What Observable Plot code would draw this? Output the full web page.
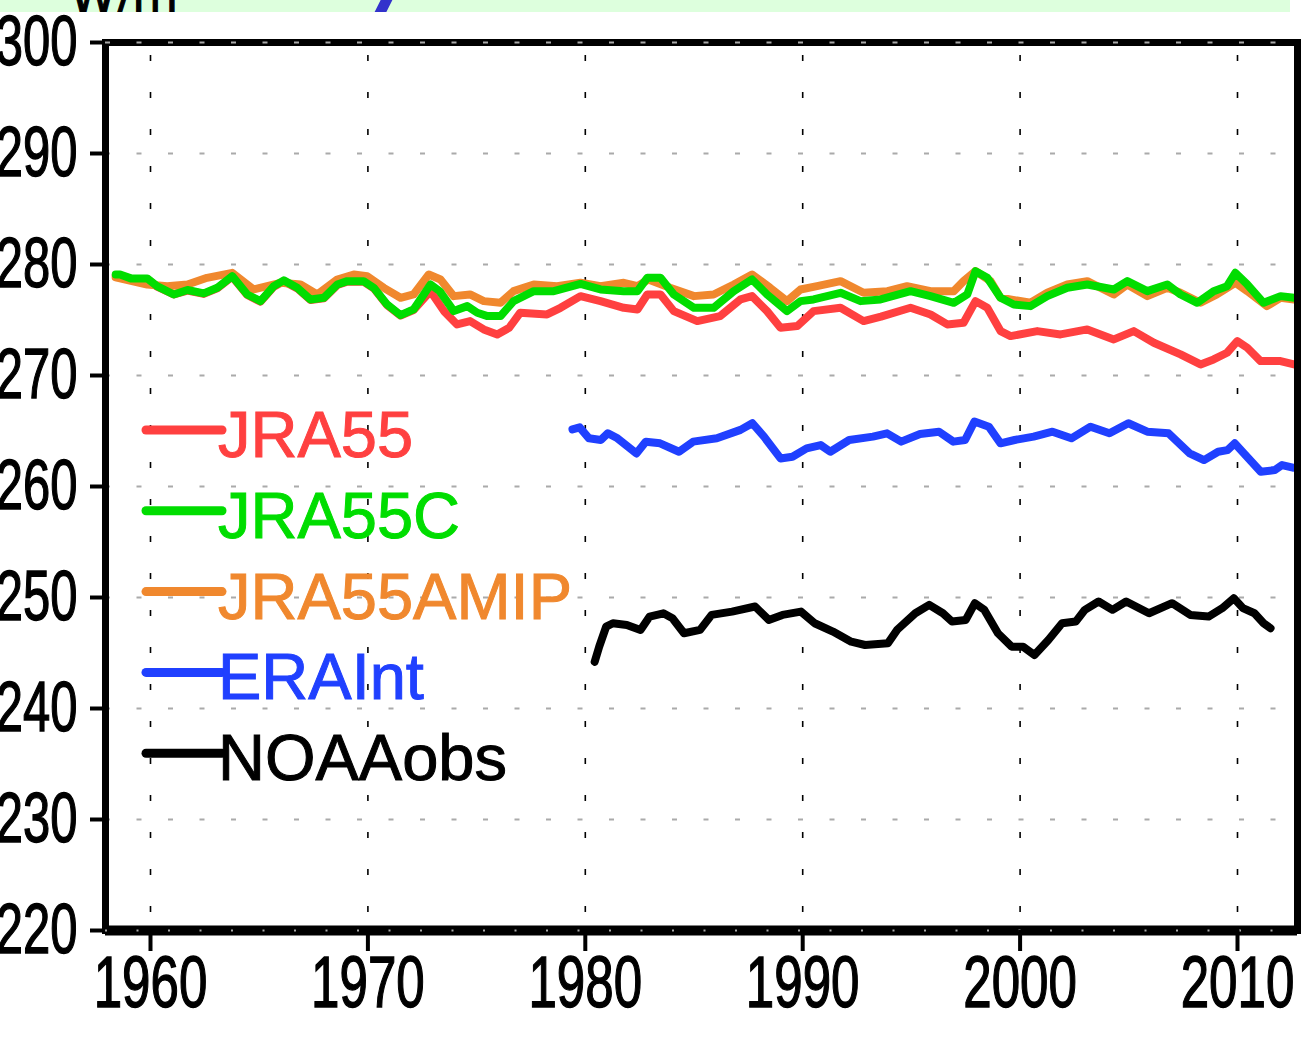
<!DOCTYPE html>
<html>
<head>
<meta charset="utf-8">
<script src="https://cdn.jsdelivr.net/npm/d3@7"></script>
<script src="https://cdn.jsdelivr.net/npm/@observablehq/plot@0.6"></script>
<style>
  html, body { margin: 0; padding: 0; background: white; overflow: hidden; }
  #band { display: block; }
</style>
</head>
<body>
<svg id="band" width="1303" height="12">
  <rect x="0" y="0" width="1290" height="12" fill="#ddffdd"></rect>
  <text x="70" y="12" font-family="DejaVu Sans" font-size="47" fill="black" stroke="black" stroke-width="1">W/m²</text>
  <text x="380" y="12" font-family="DejaVu Sans" font-weight="bold" font-style="italic" font-size="64" fill="#3333cc" stroke="#3333cc" stroke-width="4">/</text>
</svg>
<div id="chart"></div>
<script>
// ---- data (year, W/m^2) ----
const seriesNames = ["JRA55", "JRA55C", "JRA55AMIP", "ERAInt", "NOAAobs"];
const seriesColors = ["#ff4040", "#00dd00", "#f0882e", "#2040ff", "#000000"];
const xTicks = [1960, 1970, 1980, 1990, 2000, 2010];
const yTicks = [220, 230, 240, 250, 260, 270, 280, 290, 300];

const jra55 = [[1958.4,279.0],[1958.6,279.0],[1959.1,278.7],[1959.85,278.7],[1960.3,278.0],[1961.07,277.3],[1961.7,277.65],[1962.45,277.35],[1963.07,277.85],[1963.76,278.9],[1964.45,277.25],[1965.06,276.65],[1965.67,278.0],[1966.13,278.5],[1966.75,277.85],[1967.36,276.8],[1967.97,276.95],[1968.59,278.15],[1969.05,278.45],[1969.8,278.45],[1970.27,277.85],[1970.88,276.35],[1971.5,275.4],[1972.1,275.9],[1972.88,277.6],[1973.5,275.8],[1974.1,274.6],[1974.7,274.9],[1975.33,274.15],[1975.95,273.7],[1976.5,274.3],[1977.0,275.65],[1978.24,275.5],[1978.86,276.1],[1979.78,277.15],[1980.7,276.7],[1981.77,276.1],[1982.4,275.95],[1982.85,277.3],[1983.46,277.3],[1984.07,275.8],[1985.15,274.9],[1986.2,275.35],[1987.14,276.85],[1987.67,277.15],[1988.36,275.8],[1988.98,274.3],[1989.75,274.45],[1990.5,275.8],[1991.74,276.1],[1992.8,274.9],[1993.6,275.3],[1994.96,276.1],[1995.88,275.5],[1996.65,274.6],[1997.4,274.75],[1997.95,276.7],[1998.49,276.1],[1999.1,274.0],[1999.56,273.55],[2000.79,274.0],[2001.86,273.7],[2003.09,274.15],[2004.31,273.25],[2005.23,274.0],[2006.15,272.95],[2007.38,271.9],[2008.3,271.0],[2008.9,271.45],[2009.52,272.05],[2009.99,273.1],[2010.45,272.5],[2011.06,271.3],[2011.98,271.3],[2012.6,271.0]];

const jra55c = [[1958.4,279.1],[1958.6,279.1],[1959.1,278.75],[1959.85,278.75],[1960.3,278.05],[1961.07,277.3],[1961.7,277.7],[1962.45,277.4],[1963.07,277.9],[1963.76,278.95],[1964.45,277.3],[1965.06,276.7],[1965.67,278.05],[1966.13,278.57],[1966.75,277.9],[1967.36,276.85],[1967.97,277.0],[1968.59,278.2],[1969.05,278.5],[1969.8,278.5],[1970.27,277.9],[1970.88,276.4],[1971.5,275.44],[1972.1,275.95],[1972.88,278.2],[1973.3,277.6],[1973.95,275.8],[1974.57,276.25],[1975.03,275.65],[1975.5,275.35],[1976.1,275.35],[1976.7,276.7],[1977.63,277.6],[1978.55,277.6],[1979.78,278.25],[1980.7,277.75],[1981.77,277.6],[1982.4,277.6],[1982.85,278.8],[1983.46,278.8],[1984.07,277.3],[1985.0,276.1],[1985.9,276.1],[1986.83,277.6],[1987.67,278.65],[1988.36,277.3],[1989.28,275.8],[1989.9,276.7],[1990.5,276.85],[1991.74,277.45],[1992.66,276.7],[1993.58,276.85],[1994.96,277.6],[1995.88,277.15],[1996.95,276.55],[1997.57,277.3],[1997.95,279.4],[1998.49,278.8],[1999.1,277.0],[1999.71,276.4],[2000.48,276.25],[2001.25,277.15],[2002.17,277.9],[2003.09,278.2],[2004.31,277.75],[2004.93,278.5],[2005.85,277.6],[2006.77,278.2],[2007.38,277.3],[2008.15,276.55],[2008.9,277.6],[2009.52,278.05],[2009.9,279.25],[2010.45,278.2],[2011.2,276.55],[2011.98,277.15],[2012.6,277.0]];

const jra55amip = [[1958.4,278.85],[1959.85,278.2],[1960.77,278.05],[1961.7,278.2],[1962.6,278.8],[1963.76,279.25],[1964.75,277.75],[1965.98,278.35],[1966.9,278.2],[1967.67,277.3],[1968.59,278.65],[1969.35,279.1],[1969.97,278.95],[1970.73,277.9],[1971.5,277.0],[1972.1,277.3],[1972.8,279.1],[1973.34,278.65],[1973.95,277.15],[1974.7,277.3],[1975.33,276.7],[1976.1,276.55],[1976.7,277.6],[1977.63,278.2],[1978.7,278.05],[1979.78,278.35],[1980.7,278.05],[1981.77,278.35],[1982.4,278.05],[1982.9,278.65],[1983.9,277.9],[1985.0,277.15],[1985.9,277.3],[1986.83,278.2],[1987.67,279.1],[1988.5,277.9],[1989.28,276.7],[1989.9,277.75],[1990.66,278.05],[1991.74,278.5],[1992.8,277.45],[1993.9,277.6],[1994.8,278.05],[1995.88,277.6],[1996.95,277.6],[1997.4,278.5],[1997.95,279.4],[1998.64,278.5],[1999.1,277.0],[2000.48,276.55],[2001.25,277.45],[2002.17,278.2],[2003.09,278.5],[2004.31,277.3],[2004.93,278.2],[2005.85,277.15],[2006.77,277.9],[2007.38,277.45],[2008.3,276.55],[2009.05,277.3],[2009.9,278.35],[2010.45,277.6],[2011.35,276.25],[2011.98,277.0],[2012.6,276.85]];

const eraint = [[1979.41,265.15],[1979.74,265.33],[1980.17,264.34],[1980.72,264.19],[1981.04,264.8],[1981.48,264.34],[1982.35,262.98],[1982.78,264.04],[1983.44,263.89],[1984.31,263.13],[1984.96,264.04],[1986.05,264.34],[1987.14,265.1],[1987.68,265.7],[1988.22,264.49],[1988.98,262.53],[1989.53,262.68],[1990.18,263.43],[1990.83,263.73],[1991.27,263.13],[1992.14,264.19],[1993.23,264.49],[1993.88,264.79],[1994.53,264.04],[1995.4,264.73],[1996.27,264.94],[1996.93,264.04],[1997.47,264.19],[1997.9,265.85],[1998.56,265.39],[1999.1,263.89],[1999.75,264.19],[2000.62,264.49],[2001.49,264.94],[2002.36,264.34],[2003.24,265.39],[2004.11,264.79],[2004.98,265.7],[2005.85,264.94],[2006.83,264.79],[2007.8,262.98],[2008.46,262.38],[2009.11,263.13],[2009.54,263.28],[2009.87,263.89],[2010.3,262.98],[2011.07,261.33],[2011.72,261.48],[2012.05,261.93],[2012.55,261.7]];

const noaaobs = [[1980.43,244.2],[1980.64,245.57],[1980.96,247.38],[1981.27,247.68],[1981.91,247.53],[1982.54,247.08],[1982.96,248.28],[1983.59,248.58],[1984.01,248.13],[1984.54,246.78],[1985.28,247.08],[1985.81,248.43],[1986.75,248.73],[1987.81,249.19],[1988.44,247.98],[1989.07,248.43],[1989.92,248.73],[1990.55,247.68],[1991.39,246.93],[1992.23,246.02],[1992.87,245.72],[1993.92,245.87],[1994.34,247.08],[1995.18,248.58],[1995.82,249.34],[1996.45,248.58],[1996.87,247.83],[1997.5,247.98],[1997.92,249.49],[1998.35,248.89],[1998.98,246.78],[1999.61,245.57],[2000.14,245.57],[2000.66,244.82],[2001.3,246.17],[2001.93,247.68],[2002.56,247.83],[2002.98,248.89],[2003.61,249.64],[2004.25,248.89],[2004.88,249.64],[2005.93,248.58],[2006.99,249.49],[2007.83,248.43],[2008.67,248.28],[2009.3,249.04],[2009.83,249.94],[2010.25,249.04],[2010.78,248.58],[2011.2,247.68],[2011.52,247.23]];

const allSeries = [jra55, jra55c, jra55amip, eraint, noaaobs];

// ---- legend drawn inside the plot frame ----
function legendMark(index, scales, values, dimensions) {
  const g = d3.create("svg:g").attr("text-anchor", "start");
  const x0 = dimensions.marginLeft + 41;
  seriesNames.forEach((name, i) => {
    const y = dimensions.marginTop + 388 + i * 80.8;
    g.append("line")
      .attr("x1", x0).attr("x2", x0 + 76)
      .attr("y1", y).attr("y2", y)
      .attr("stroke", seriesColors[i]).attr("stroke-width", 9)
      .attr("stroke-linecap", "round");
    g.append("text")
      .attr("x", x0 + 72).attr("y", y + 27)
      .attr("text-anchor", "start")
      .attr("fill", seriesColors[i])
      .attr("stroke", seriesColors[i]).attr("stroke-width", 1)
      .attr("font-family", "'Liberation Sans', Arial, sans-serif")
      .attr("font-size", 65)
      .text(name);
  });
  return g.node();
}

const drawOrder = [0, 2, 1, 3, 4];
const lineMarks = drawOrder.map(i =>
  Plot.line(allSeries[i], {
    x: d => d[0], y: d => d[1],
    stroke: seriesColors[i], strokeWidth: 8,
    strokeLinejoin: "round", strokeLinecap: "round"
  })
);

const tickFont = "'Liberation Sans', Arial, sans-serif";

const chart = Plot.plot({
  width: 1303,
  height: 1031,
  marginLeft: 105,
  marginRight: 6,
  marginTop: 30,
  marginBottom: 113,
  style: { background: "white", overflow: "visible", fontFamily: tickFont },
  x: { domain: [1957.93, 2012.76] },
  y: { domain: [220, 300] },
  marks: [
    Plot.ruleY(yTicks.slice(1, -1), { stroke: "#aaaaaa", strokeWidth: 2, strokeDasharray: "5,26.5" }),
    Plot.ruleX(xTicks, { stroke: "black", strokeWidth: 1.6, strokeDasharray: "6,31", strokeDashoffset: -13 }),
    ...lineMarks,
    Plot.frame({ stroke: "black", strokeWidth: 7 }),
    Plot.ruleY([220], { stroke: "black", strokeWidth: 10 }),
    Plot.ruleY([300], { stroke: "#aaaaaa", strokeWidth: 2, strokeDasharray: "5,26.5" }),
    Plot.ruleY([220], { stroke: "#aaaaaa", strokeWidth: 2, strokeDasharray: "2,29.5" }),
    Plot.axisY({ ticks: yTicks, tickFormat: d => String(d), tickSize: 15, tickPadding: 13, strokeWidth: 4, fontSize: 70, fontFamily: tickFont, label: null, fill: "black" }),
    Plot.axisX({ ticks: xTicks, tickFormat: d => String(d), tickSize: 21, tickPadding: 4, strokeWidth: 4, fontSize: 72, fontFamily: tickFont, label: null, fill: "black" }),
    legendMark
  ]
});

// condense the tick labels horizontally (the reference uses a narrow face)
function condense(el, sx) {
  const xa = el.getAttribute("x");
  if (xa !== null && !isNaN(+xa)) el.setAttribute("x", (+xa) / sx);
  const t = el.getAttribute("transform") || "";
  el.setAttribute("transform", `${t} scale(${sx},1)`);
  el.setAttribute("stroke", "black");
  el.setAttribute("stroke-width", "1.4");
}
chart.querySelectorAll('g[aria-label="y-axis tick label"] text').forEach(el => condense(el, 0.7));
chart.querySelectorAll('g[aria-label="x-axis tick label"] text').forEach(el => condense(el, 0.71));

document.getElementById("chart").appendChild(chart);
</script>
</body>
</html>
